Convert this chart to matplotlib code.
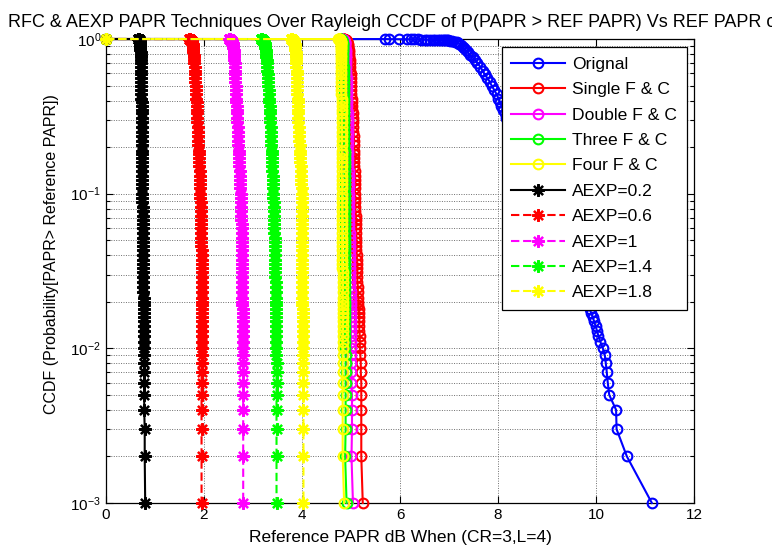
import matplotlib
matplotlib.use("Agg")
import matplotlib.pyplot as plt
from matplotlib.ticker import LogLocator, NullFormatter, FixedLocator

plt.rcParams['font.family'] = ['Liberation Sans', 'DejaVu Sans']
plt.rcParams['mathtext.fontset'] = 'custom'
plt.rcParams['mathtext.rm'] = 'Liberation Sans'
plt.rcParams['mathtext.it'] = 'Liberation Sans'
plt.rcParams['mathtext.default'] = 'regular'

# CCDF levels shared by every curve (probability that PAPR exceeds the reference)
ccdf_levels = [
    1.0, 0.999, 0.998, 0.997, 0.996, 0.995, 0.994, 0.993, 0.992, 0.991,
    0.99, 0.989, 0.988, 0.987, 0.986, 0.985, 0.984, 0.983, 0.982, 0.981,
    0.98, 0.975, 0.97, 0.96, 0.95, 0.94, 0.93, 0.91, 0.89,
    0.87, 0.85, 0.82, 0.79, 0.76, 0.73, 0.7, 0.66, 0.62, 0.59,
    0.56, 0.53, 0.5, 0.47, 0.44, 0.41, 0.39, 0.37, 0.35, 0.33,
    0.31, 0.29, 0.27, 0.25, 0.235, 0.22, 0.205, 0.19, 0.18, 0.17,
    0.16, 0.15, 0.14, 0.13, 0.122, 0.115, 0.108, 0.1, 0.094, 0.088,
    0.082, 0.077, 0.072, 0.068, 0.064, 0.06, 0.056, 0.052, 0.049, 0.046,
    0.043, 0.04, 0.037, 0.035, 0.033, 0.031, 0.029, 0.027, 0.025, 0.023,
    0.021, 0.02, 0.019, 0.018, 0.017, 0.016, 0.015, 0.014, 0.013, 0.012,
    0.011, 0.01, 0.009, 0.008, 0.007, 0.006, 0.005, 0.004, 0.003, 0.002,
    0.001]

# Reference PAPR (dB) reached at each CCDF level
papr_original = [
    0, 5.70, 5.77, 5.97, 6.15, 6.22, 6.29, 6.36, 6.43, 6.50,
    6.56, 6.62, 6.67, 6.72, 6.77, 6.81, 6.85, 6.89, 6.92, 6.95,
    6.97, 7.03, 7.07, 7.12, 7.16, 7.19, 7.21, 7.25, 7.28,
    7.31, 7.34, 7.38, 7.43, 7.48, 7.53, 7.58, 7.64, 7.69, 7.73,
    7.78, 7.83, 7.87, 7.92, 7.97, 8.01, 8.04, 8.07, 8.10, 8.14,
    8.17, 8.21, 8.25, 8.29, 8.32, 8.36, 8.40, 8.44, 8.47, 8.50,
    8.53, 8.57, 8.61, 8.66, 8.70, 8.73, 8.77, 8.82, 8.85, 8.89,
    8.94, 8.98, 9.02, 9.06, 9.10, 9.14, 9.18, 9.22, 9.26, 9.30,
    9.34, 9.38, 9.43, 9.46, 9.50, 9.54, 9.58, 9.62, 9.67, 9.72,
    9.78, 9.81, 9.84, 9.87, 9.90, 9.93, 9.96, 9.99, 10.02, 10.05,
    10.09, 10.14, 10.18, 10.20, 10.22, 10.24, 10.27, 10.41, 10.42, 10.63,
    11.14]

papr_single_fc = [
    0, 4.80, 4.82, 4.83, 4.84, 4.85, 4.85, 4.86, 4.86, 4.87,
    4.87, 4.87, 4.88, 4.88, 4.88, 4.89, 4.89, 4.89, 4.89, 4.90,
    4.90, 4.90, 4.91, 4.91, 4.92, 4.92, 4.93, 4.93, 4.94,
    4.94, 4.95, 4.95, 4.96, 4.96, 4.97, 4.97, 4.98, 4.98, 4.99,
    4.99, 5.00, 5.00, 5.01, 5.01, 5.02, 5.02, 5.03, 5.03, 5.04,
    5.04, 5.05, 5.05, 5.05, 5.06, 5.06, 5.06, 5.07, 5.07, 5.07,
    5.07, 5.07, 5.08, 5.08, 5.08, 5.08, 5.08, 5.08, 5.09, 5.09,
    5.09, 5.09, 5.10, 5.10, 5.10, 5.10, 5.11, 5.11, 5.11, 5.11,
    5.11, 5.12, 5.12, 5.12, 5.12, 5.13, 5.13, 5.13, 5.14, 5.14,
    5.15, 5.15, 5.15, 5.16, 5.16, 5.16, 5.17, 5.17, 5.17, 5.18,
    5.18, 5.18, 5.19, 5.20, 5.20, 5.21, 5.21, 5.21, 5.21, 5.21,
    5.24]

papr_double_fc = [
    0, 4.78, 4.79, 4.80, 4.81, 4.81, 4.82, 4.82, 4.83, 4.83,
    4.83, 4.84, 4.84, 4.84, 4.84, 4.85, 4.85, 4.85, 4.85, 4.85,
    4.86, 4.86, 4.86, 4.87, 4.87, 4.87, 4.88, 4.88, 4.88,
    4.88, 4.89, 4.89, 4.89, 4.89, 4.90, 4.90, 4.90, 4.90, 4.90,
    4.91, 4.91, 4.91, 4.91, 4.92, 4.92, 4.92, 4.92, 4.92, 4.93,
    4.93, 4.93, 4.93, 4.93, 4.93, 4.94, 4.94, 4.94, 4.94, 4.94,
    4.94, 4.94, 4.95, 4.95, 4.95, 4.95, 4.95, 4.95, 4.95, 4.96,
    4.96, 4.96, 4.96, 4.96, 4.96, 4.96, 4.97, 4.97, 4.97, 4.97,
    4.97, 4.97, 4.97, 4.98, 4.98, 4.98, 4.98, 4.98, 4.98, 4.99,
    4.99, 4.99, 4.99, 4.99, 4.99, 4.99, 5.00, 5.00, 5.00, 5.00,
    5.00, 5.00, 5.00, 5.01, 5.01, 5.01, 5.02, 5.02, 5.02, 5.01,
    5.04]

papr_three_fc = [
    0, 4.76, 4.77, 4.78, 4.78, 4.79, 4.79, 4.79, 4.80, 4.80,
    4.80, 4.80, 4.80, 4.81, 4.81, 4.81, 4.81, 4.81, 4.81, 4.81,
    4.81, 4.82, 4.82, 4.82, 4.82, 4.83, 4.83, 4.83, 4.83,
    4.83, 4.84, 4.84, 4.84, 4.84, 4.84, 4.84, 4.85, 4.85, 4.85,
    4.85, 4.85, 4.85, 4.85, 4.85, 4.86, 4.86, 4.86, 4.86, 4.86,
    4.86, 4.86, 4.86, 4.86, 4.86, 4.86, 4.86, 4.87, 4.87, 4.87,
    4.87, 4.87, 4.87, 4.87, 4.87, 4.87, 4.87, 4.87, 4.87, 4.87,
    4.87, 4.87, 4.87, 4.87, 4.87, 4.88, 4.88, 4.88, 4.88, 4.88,
    4.88, 4.88, 4.88, 4.88, 4.88, 4.88, 4.88, 4.88, 4.88, 4.88,
    4.88, 4.88, 4.88, 4.88, 4.88, 4.88, 4.88, 4.88, 4.88, 4.88,
    4.88, 4.88, 4.89, 4.89, 4.89, 4.89, 4.89, 4.89, 4.89, 4.88,
    4.91]

papr_four_fc = [
    0, 4.74, 4.75, 4.75, 4.76, 4.76, 4.76, 4.77, 4.77, 4.77,
    4.77, 4.77, 4.77, 4.78, 4.78, 4.78, 4.78, 4.78, 4.78, 4.78,
    4.78, 4.78, 4.79, 4.79, 4.79, 4.79, 4.79, 4.79, 4.79,
    4.80, 4.80, 4.80, 4.80, 4.80, 4.80, 4.80, 4.80, 4.80, 4.80,
    4.80, 4.80, 4.80, 4.80, 4.80, 4.81, 4.81, 4.81, 4.81, 4.81,
    4.81, 4.81, 4.81, 4.81, 4.81, 4.81, 4.81, 4.81, 4.81, 4.81,
    4.81, 4.81, 4.81, 4.81, 4.82, 4.82, 4.82, 4.82, 4.82, 4.82,
    4.82, 4.82, 4.82, 4.82, 4.82, 4.82, 4.82, 4.82, 4.82, 4.82,
    4.82, 4.82, 4.82, 4.82, 4.82, 4.83, 4.83, 4.83, 4.83, 4.83,
    4.83, 4.83, 4.83, 4.83, 4.83, 4.83, 4.83, 4.83, 4.83, 4.83,
    4.83, 4.83, 4.83, 4.83, 4.83, 4.83, 4.83, 4.83, 4.83, 4.83,
    4.86]

papr_aexp_02 = [
    0, 0.66, 0.66, 0.66, 0.67, 0.67, 0.67, 0.67, 0.67, 0.67,
    0.68, 0.68, 0.68, 0.68, 0.68, 0.68, 0.68, 0.68, 0.68, 0.68,
    0.69, 0.69, 0.69, 0.69, 0.69, 0.70, 0.70, 0.70, 0.70,
    0.70, 0.70, 0.71, 0.71, 0.71, 0.71, 0.71, 0.71, 0.72, 0.72,
    0.72, 0.72, 0.72, 0.72, 0.72, 0.72, 0.73, 0.73, 0.73, 0.73,
    0.73, 0.73, 0.73, 0.73, 0.73, 0.73, 0.73, 0.73, 0.74, 0.74,
    0.74, 0.74, 0.74, 0.74, 0.74, 0.74, 0.74, 0.74, 0.74, 0.74,
    0.75, 0.75, 0.75, 0.75, 0.75, 0.75, 0.75, 0.75, 0.75, 0.75,
    0.75, 0.75, 0.76, 0.76, 0.76, 0.76, 0.76, 0.76, 0.76, 0.76,
    0.77, 0.77, 0.77, 0.77, 0.77, 0.77, 0.77, 0.77, 0.77, 0.77,
    0.77, 0.77, 0.78, 0.78, 0.78, 0.78, 0.78, 0.78, 0.79, 0.79,
    0.80]

papr_aexp_06 = [
    0, 1.70, 1.70, 1.71, 1.71, 1.71, 1.72, 1.72, 1.72, 1.72,
    1.73, 1.73, 1.73, 1.73, 1.73, 1.74, 1.74, 1.74, 1.74, 1.74,
    1.74, 1.75, 1.75, 1.76, 1.76, 1.76, 1.77, 1.77, 1.77,
    1.78, 1.78, 1.78, 1.79, 1.79, 1.80, 1.80, 1.81, 1.81, 1.82,
    1.82, 1.82, 1.83, 1.83, 1.84, 1.84, 1.85, 1.85, 1.85, 1.86,
    1.86, 1.86, 1.87, 1.87, 1.88, 1.88, 1.88, 1.89, 1.89, 1.90,
    1.90, 1.90, 1.91, 1.91, 1.91, 1.92, 1.92, 1.92, 1.92, 1.93,
    1.93, 1.93, 1.93, 1.93, 1.94, 1.94, 1.94, 1.94, 1.94, 1.94,
    1.95, 1.95, 1.95, 1.95, 1.95, 1.95, 1.95, 1.96, 1.96, 1.96,
    1.96, 1.96, 1.96, 1.96, 1.96, 1.96, 1.96, 1.96, 1.96, 1.96,
    1.96, 1.96, 1.96, 1.95, 1.95, 1.95, 1.95, 1.95, 1.95, 1.95,
    1.95]

papr_aexp_10 = [
    0, 2.50, 2.51, 2.52, 2.52, 2.53, 2.53, 2.53, 2.54, 2.54,
    2.54, 2.54, 2.55, 2.55, 2.55, 2.55, 2.55, 2.56, 2.56, 2.56,
    2.56, 2.57, 2.57, 2.58, 2.58, 2.59, 2.59, 2.60, 2.60,
    2.60, 2.61, 2.61, 2.61, 2.62, 2.62, 2.63, 2.63, 2.63, 2.64,
    2.64, 2.64, 2.65, 2.65, 2.66, 2.66, 2.66, 2.67, 2.67, 2.67,
    2.68, 2.68, 2.69, 2.69, 2.70, 2.70, 2.70, 2.71, 2.71, 2.72,
    2.72, 2.72, 2.73, 2.73, 2.74, 2.74, 2.74, 2.75, 2.75, 2.75,
    2.76, 2.76, 2.76, 2.76, 2.77, 2.77, 2.77, 2.77, 2.77, 2.77,
    2.78, 2.78, 2.78, 2.78, 2.78, 2.78, 2.78, 2.78, 2.78, 2.78,
    2.78, 2.78, 2.78, 2.79, 2.79, 2.79, 2.79, 2.79, 2.79, 2.79,
    2.79, 2.79, 2.79, 2.80, 2.80, 2.80, 2.80, 2.80, 2.80, 2.80,
    2.80]

papr_aexp_14 = [
    0, 3.16, 3.16, 3.17, 3.17, 3.18, 3.18, 3.18, 3.19, 3.19,
    3.19, 3.19, 3.20, 3.20, 3.20, 3.20, 3.20, 3.21, 3.21, 3.21,
    3.21, 3.22, 3.22, 3.23, 3.23, 3.24, 3.24, 3.25, 3.25,
    3.25, 3.26, 3.26, 3.27, 3.27, 3.28, 3.28, 3.29, 3.29, 3.30,
    3.30, 3.31, 3.31, 3.32, 3.32, 3.33, 3.33, 3.34, 3.34, 3.34,
    3.35, 3.35, 3.36, 3.36, 3.37, 3.37, 3.37, 3.38, 3.38, 3.38,
    3.39, 3.39, 3.39, 3.40, 3.40, 3.40, 3.41, 3.41, 3.41, 3.42,
    3.42, 3.42, 3.42, 3.43, 3.43, 3.43, 3.43, 3.44, 3.44, 3.44,
    3.44, 3.44, 3.45, 3.45, 3.45, 3.45, 3.45, 3.46, 3.46, 3.46,
    3.46, 3.46, 3.46, 3.46, 3.47, 3.47, 3.47, 3.47, 3.47, 3.47,
    3.47, 3.47, 3.47, 3.48, 3.48, 3.48, 3.48, 3.48, 3.48, 3.48,
    3.48]

papr_aexp_18 = [
    0, 3.77, 3.77, 3.78, 3.78, 3.79, 3.79, 3.79, 3.79, 3.80,
    3.80, 3.80, 3.80, 3.80, 3.81, 3.81, 3.81, 3.81, 3.81, 3.81,
    3.82, 3.82, 3.83, 3.83, 3.84, 3.84, 3.85, 3.85, 3.86,
    3.86, 3.86, 3.87, 3.87, 3.87, 3.88, 3.88, 3.88, 3.89, 3.89,
    3.89, 3.89, 3.90, 3.90, 3.90, 3.91, 3.91, 3.91, 3.91, 3.92,
    3.92, 3.92, 3.93, 3.93, 3.94, 3.94, 3.95, 3.95, 3.96, 3.96,
    3.96, 3.97, 3.97, 3.98, 3.98, 3.98, 3.99, 3.99, 3.99, 3.99,
    4.00, 4.00, 4.00, 4.00, 4.00, 4.00, 4.00, 4.00, 4.00, 4.00,
    4.00, 4.00, 4.01, 4.01, 4.01, 4.01, 4.01, 4.01, 4.01, 4.01,
    4.01, 4.01, 4.01, 4.02, 4.02, 4.02, 4.02, 4.02, 4.02, 4.02,
    4.02, 4.02, 4.02, 4.03, 4.03, 4.03, 4.03, 4.03, 4.03, 4.03,
    4.03]

series_labels = ['Orignal', 'Single F & C', 'Double F & C', 'Three F & C',
                 'Four F & C', 'AEXP=0.2', 'AEXP=0.6', 'AEXP=1',
                 'AEXP=1.4', 'AEXP=1.8']
series_values = [papr_original, papr_single_fc, papr_double_fc, papr_three_fc,
                 papr_four_fc, papr_aexp_02, papr_aexp_06, papr_aexp_10,
                 papr_aexp_14, papr_aexp_18]
series_colors = ['#0000ff', '#ff0000', '#ff00ff', '#00ff00', '#ffff00',
                 '#000000', '#ff0000', '#ff00ff', '#00ff00', '#ffff00']

W, H = 772, 552
fig = plt.figure(figsize=(W / 100, H / 100), dpi=100)
fig.patch.set_facecolor('white')
ax = fig.add_axes([106 / W, 1 - 503 / H, (694 - 106) / W, (503 - 39) / H])

asterisk = (8, 2, 0)
for i, (lab, xs, col) in enumerate(zip(series_labels, series_values, series_colors)):
    if i < 5:
        ax.plot(xs, ccdf_levels, '-', color=col, lw=1.5, marker='o', ms=7,
                mew=1.5, mfc='none', mec=col, label=lab, clip_on=False, zorder=3)
    else:
        ls = '-' if i == 5 else '--'
        line, = ax.plot(xs, ccdf_levels, ls, color=col, lw=1.5, marker=asterisk,
                        ms=9, mew=1.6, mec=col, label=lab, clip_on=False, zorder=3)
        if ls == '--':
            line.set_dashes((4, 1.8))

ax.set_yscale('log')
ax.set_xlim(0, 12)
ax.set_ylim(1e-3, 1)
ax.xaxis.set_major_locator(FixedLocator([0, 2, 4, 6, 8, 10, 12]))
ax.yaxis.set_major_locator(LogLocator(base=10, numticks=10))
ax.yaxis.set_minor_locator(LogLocator(base=10, subs=range(2, 10), numticks=20))
ax.yaxis.set_minor_formatter(NullFormatter())

grid_style = dict(ls=(0, (1, 1.5)), color='#6e6e6e', lw=0.7)
ax.grid(True, which='major', axis='both', **grid_style)
ax.grid(True, which='minor', axis='y', **grid_style)
ax.set_axisbelow(True)

ax.tick_params(which='both', direction='in', top=True, right=True,
               labelsize=11, width=0.8)
ax.tick_params(which='major', length=5)
ax.tick_params(which='minor', length=3)
for sp in ax.spines.values():
    sp.set_linewidth(0.9)

ax.set_xlabel('Reference PAPR dB When (CR=3,L=4)', fontsize=12.5, labelpad=6)
fig.text(52 / W, 1 - 254 / H, 'CCDF (Probability[PAPR> Reference PAPR])',
         rotation=90, ha='center', va='center', fontsize=11.5)

fig.text(8 / W, 1 - 27 / H,
         'RFC & AEXP PAPR Techniques Over Rayleigh CCDF of P(PAPR > REF PAPR) Vs REF PAPR of',
         ha='left', va='baseline', fontsize=13)

leg = ax.legend(loc='upper right', bbox_to_anchor=(687 / W, 1 - 47 / H),
                bbox_transform=fig.transFigure, borderaxespad=0, fontsize=12.6,
                numpoints=1, handlelength=3.1, handletextpad=0.4,
                fancybox=False, framealpha=1, edgecolor='black',
                borderpad=0.55, labelspacing=0.58)
leg.get_frame().set_linewidth(0.9)

fig.savefig('out.png', dpi=100)
